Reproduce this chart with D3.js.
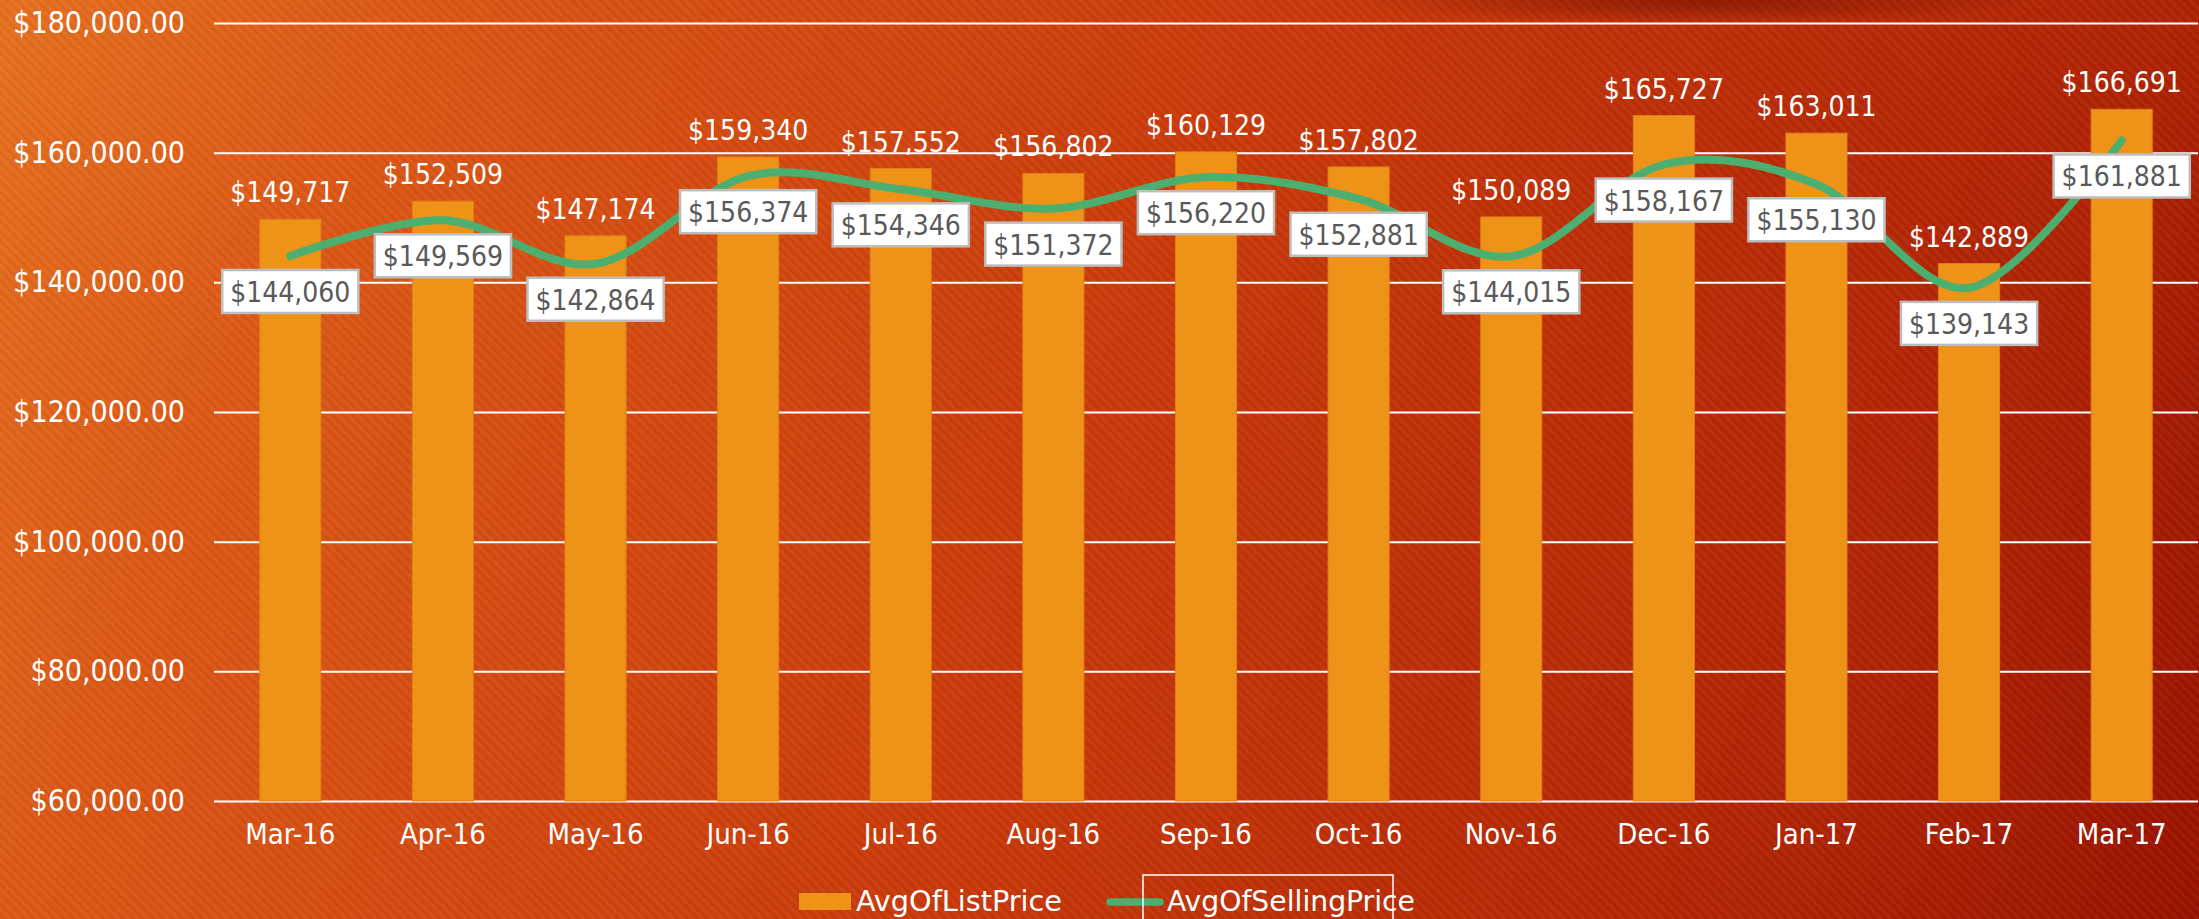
<html>
  <head>
    <title>Avg List vs Selling Price</title>
    <style>
      body { margin: 0; overflow: hidden; }
    </style>
  </head>
  <body>
    <script src="https://d3js.org/d3.v7.min.js"></script>
    <script>
      // chart values
      const months = ["Mar-16", "Apr-16", "May-16", "Jun-16", "Jul-16", "Aug-16", "Sep-16",
                      "Oct-16", "Nov-16", "Dec-16", "Jan-17", "Feb-17", "Mar-17"];
      const avgListPrice = [149717, 152509, 147174, 159340, 157552, 156802, 160129,
                            157802, 150089, 165727, 163011, 142889, 166691];
      const avgSellingPrice = [144060, 149569, 142864, 156374, 154346, 151372, 156220,
                               152881, 144015, 158167, 155130, 139143, 161881];
      const yTicks = [60000, 80000, 100000, 120000, 140000, 160000, 180000];
      const seriesNames = ["AvgOfListPrice", "AvgOfSellingPrice"];

      const width = 2199;
      const height = 919;
      const font = "'DejaVu Sans Condensed', 'DejaVu Sans', sans-serif";

      const barColor = "#ef9318";
      const lineColor = "#4caf6f";

      const svg = d3.select("body").append("svg")
          .attr("width", width)
          .attr("height", height)
          .attr("viewBox", [0, 0, width, height]);

      const defs = svg.append("defs");

      // background gradient, orange at top-left to dark red at bottom-right
      const bg = defs.append("linearGradient")
          .attr("id", "bg")
          .attr("gradientUnits", "userSpaceOnUse")
          .attr("x1", 0).attr("y1", 0)
          .attr("x2", width).attr("y2", height);
      [[0, "#e6701f"], [0.15, "#dc5816"], [0.5, "#c9390a"], [0.85, "#ae2204"], [1, "#981200"]]
        .forEach(s => bg.append("stop").attr("offset", s[0]).attr("stop-color", s[1]));

      // fine diagonal stripes over the background
      const stripes = defs.append("pattern")
          .attr("id", "stripes")
          .attr("patternUnits", "userSpaceOnUse")
          .attr("width", 7).attr("height", 7)
          .attr("patternTransform", "rotate(-45)");
      stripes.append("rect").attr("width", 3).attr("height", 7)
          .attr("fill", "#ffffff").attr("opacity", 0.035);
      stripes.append("rect").attr("x", 3.5).attr("width", 2).attr("height", 7)
          .attr("fill", "#000000").attr("opacity", 0.04);

      // dark shadow blob near the top edge
      const shade = defs.append("radialGradient").attr("id", "shade");
      shade.append("stop").attr("offset", 0).attr("stop-color", "#6a0c00").attr("stop-opacity", 0.55);
      shade.append("stop").attr("offset", 1).attr("stop-color", "#6a0c00").attr("stop-opacity", 0);

      svg.append("rect").attr("width", width).attr("height", height).attr("fill", "url(#bg)");
      svg.append("rect").attr("width", width).attr("height", height).attr("fill", "url(#stripes)");
      svg.append("ellipse")
          .attr("cx", 1700).attr("cy", 2).attr("rx", 330).attr("ry", 22)
          .attr("fill", "url(#shade)");

      // scales
      const x = d3.scaleBand()
          .domain(months)
          .range([214, 2198])
          .paddingInner(0.6)
          .paddingOuter(0.3);

      const y = d3.scaleLinear()
          .domain([60000, 180000])
          .range([801, 23]);

      const cx = m => x(m) + x.bandwidth() / 2;
      const money = v => "$" + d3.format(",")(v);

      // y axis with gridlines
      const yAxis = svg.append("g")
          .attr("transform", "translate(214,0)")
          .call(d3.axisLeft(y)
            .tickValues(yTicks)
            .tickSize(-1984)
            .tickPadding(29)
            .tickFormat(d => "$" + d3.format(",.2f")(d)));
      yAxis.select(".domain").remove();
      yAxis.selectAll(".tick line")
          .attr("stroke", "#ffffff")
          .attr("stroke-width", 2);
      yAxis.selectAll(".tick text")
          .attr("fill", "#ffffff")
          .attr("font-family", font)
          .attr("font-size", 30);

      // x axis labels
      const xAxis = svg.append("g")
          .attr("transform", "translate(0,801)")
          .call(d3.axisBottom(x).tickSize(0).tickPadding(22));
      xAxis.select(".domain").remove();
      xAxis.selectAll(".tick text")
          .attr("fill", "#ffffff")
          .attr("font-family", font)
          .attr("font-size", 29);

      // bars
      svg.append("g")
        .selectAll("rect")
        .data(months)
        .join("rect")
          .attr("x", d => x(d))
          .attr("y", (d, i) => y(avgListPrice[i]))
          .attr("width", x.bandwidth())
          .attr("height", (d, i) => y(60000) - y(avgListPrice[i]))
          .attr("fill", barColor)
          .attr("stroke", "#e0801a")
          .attr("stroke-width", 1);

      // bar value labels
      svg.append("g")
        .selectAll("text")
        .data(months)
        .join("text")
          .attr("x", d => cx(d))
          .attr("y", (d, i) => y(avgListPrice[i]) - 17)
          .attr("text-anchor", "middle")
          .attr("fill", "#ffffff")
          .attr("font-family", font)
          .attr("font-size", 28)
          .text((d, i) => money(avgListPrice[i]));

      // smoothed selling price line
      const line = d3.line()
          .x(d => cx(d))
          .y((d, i) => y(avgSellingPrice[i]))
          .curve(d3.curveCardinal.tension(0));

      svg.append("path")
          .attr("d", line(months))
          .attr("fill", "none")
          .attr("stroke", lineColor)
          .attr("stroke-width", 8)
          .attr("stroke-linecap", "round");

      // boxed labels under each line point
      const boxes = svg.append("g")
        .selectAll("g")
        .data(months)
        .join("g")
          .attr("transform", (d, i) => "translate(" + cx(d) + "," + (y(avgSellingPrice[i]) + 14) + ")");

      boxes.append("rect")
          .attr("fill", "#ffffff")
          .attr("stroke", "#bdbdbd")
          .attr("stroke-width", 2.5);

      const boxText = boxes.append("text")
          .attr("y", 32)
          .attr("text-anchor", "middle")
          .attr("fill", "#595959")
          .attr("font-family", font)
          .attr("font-size", 28)
          .text((d, i) => money(avgSellingPrice[i]));

      boxText.each(function() {
        const w = this.getComputedTextLength() + 16;
        d3.select(this.parentNode).select("rect")
          .attr("x", -w / 2)
          .attr("y", 0)
          .attr("width", w)
          .attr("height", 43);
      });

      // legend
      const legend = svg.append("g");
      legend.append("rect")
          .attr("x", 799).attr("y", 893)
          .attr("width", 52).attr("height", 17)
          .attr("fill", barColor);
      legend.append("text")
          .attr("x", 856).attr("y", 911)
          .attr("fill", "#ffffff")
          .attr("font-family", font)
          .attr("font-size", 29)
          .attr("textLength", 206)
          .attr("lengthAdjust", "spacingAndGlyphs")
          .text(seriesNames[0]);
      legend.append("line")
          .attr("x1", 1110).attr("x2", 1160)
          .attr("y1", 902).attr("y2", 902)
          .attr("stroke", lineColor)
          .attr("stroke-width", 7.5)
          .attr("stroke-linecap", "round");
      legend.append("text")
          .attr("x", 1167).attr("y", 911)
          .attr("fill", "#ffffff")
          .attr("font-family", font)
          .attr("font-size", 29)
          .attr("textLength", 248)
          .attr("lengthAdjust", "spacingAndGlyphs")
          .text(seriesNames[1]);
      // selection frame around the second legend entry
      legend.append("rect")
          .attr("x", 1143).attr("y", 875)
          .attr("width", 250).attr("height", 60)
          .attr("fill", "none")
          .attr("stroke", "#ffffff")
          .attr("stroke-width", 1.5);
    </script>
  </body>
</html>
